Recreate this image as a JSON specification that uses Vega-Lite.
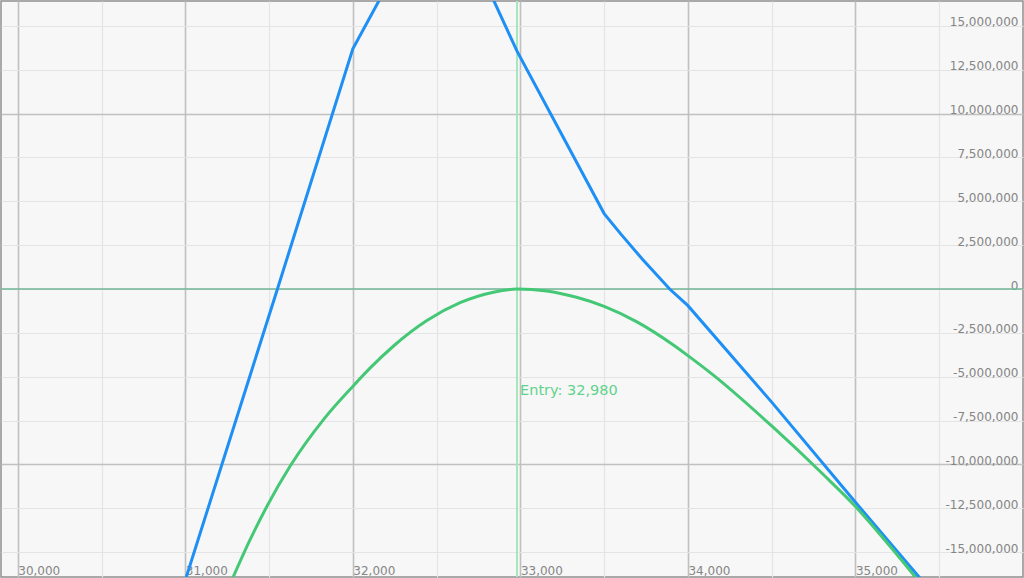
{
  "$schema": "https://vega.github.io/schema/vega-lite/v6.json",
  "width": 1024,
  "height": 578,
  "padding": 0,
  "autosize": {"type": "fit", "contains": "padding"},
  "background": "#ffffff",
  "config": {
    "view": {"fill": "#f7f7f7", "stroke": "#8f8f8f", "strokeWidth": 1.5},
    "axis": {
      "labelFont": "DejaVu Sans",
      "labelFontSize": 12,
      "labelColor": "#858585",
      "domain": false,
      "ticks": false,
      "tickSize": 0,
      "title": null,
      "labelOverlap": false,
      "labelFlush": false
    }
  },
  "datasets": {
    "pnl": [
      {"price": 31000, "value": -16600000, "series": "expiry"},
      {"price": 31550, "value": 0, "series": "expiry"},
      {"price": 32000, "value": 13690000, "series": "expiry"},
      {"price": 32527, "value": 22960000, "series": "expiry"},
      {"price": 32980, "value": 13560000, "series": "expiry"},
      {"price": 33500, "value": 4300000, "series": "expiry"},
      {"price": 33600, "value": 3130000, "series": "expiry"},
      {"price": 33730, "value": 1680000, "series": "expiry"},
      {"price": 33891, "value": 0, "series": "expiry"},
      {"price": 34000, "value": -950000, "series": "expiry"},
      {"price": 34500, "value": -6450000, "series": "expiry"},
      {"price": 35000, "value": -12160000, "series": "expiry"},
      {"price": 35400, "value": -16650000, "series": "expiry"},
      {"price": 31280, "value": -16550000, "series": "t0"},
      {"price": 31389, "value": -14250000, "series": "t0"},
      {"price": 31489, "value": -12360000, "series": "t0"},
      {"price": 31627, "value": -10080000, "series": "t0"},
      {"price": 31826, "value": -7430000, "series": "t0"},
      {"price": 32005, "value": -5500000, "series": "t0"},
      {"price": 32104, "value": -4500000, "series": "t0"},
      {"price": 32243, "value": -3250000, "series": "t0"},
      {"price": 32442, "value": -1800000, "series": "t0"},
      {"price": 32640, "value": -780000, "series": "t0"},
      {"price": 32839, "value": -180000, "series": "t0"},
      {"price": 32980, "value": 0, "series": "t0"},
      {"price": 33157, "value": -110000, "series": "t0"},
      {"price": 33335, "value": -470000, "series": "t0"},
      {"price": 33504, "value": -1000000, "series": "t0"},
      {"price": 33693, "value": -1860000, "series": "t0"},
      {"price": 33911, "value": -3180000, "series": "t0"},
      {"price": 34000, "value": -3800000, "series": "t0"},
      {"price": 34150, "value": -4900000, "series": "t0"},
      {"price": 34500, "value": -7810000, "series": "t0"},
      {"price": 34805, "value": -10550000, "series": "t0"},
      {"price": 35000, "value": -12400000, "series": "t0"},
      {"price": 35200, "value": -14600000, "series": "t0"},
      {"price": 35360, "value": -16450000, "series": "t0"}
    ],
    "entry": [{"price": 32980, "label": "Entry: 32,980"}],
    "zero": [{"value": 0}]
  },
  "layer": [
    {
      "data": {"name": "zero"},
      "mark": {"type": "rule", "color": "#6fb594", "strokeWidth": 1.5},
      "encoding": {
        "y": {
          "field": "value",
          "type": "quantitative",
          "scale": {"domain": [-16420000, 16420000], "nice": false, "zero": false},
          "axis": {
            "orient": "right",
            "values": [-15000000, -12500000, -10000000, -7500000, -5000000, -2500000, 0, 2500000, 5000000, 7500000, 10000000, 12500000, 15000000],
            "labelExpr": "replace(format(datum.value, ','), '\u2212', '-')",
            "labelAlign": "right",
            "labelBaseline": "alphabetic",
            "labelPadding": -5,
            "labelDy": -3,
            "grid": true,
            "gridColor": {"condition": {"test": "datum.value !== 0 && datum.value % 10000000 === 0", "value": "#c0c0c0"}, "value": "#e4e4e4"},
            "gridWidth": {"condition": {"test": "datum.value !== 0 && datum.value % 10000000 === 0", "value": 1.6}, "value": 1.2}
          }
        }
      }
    },
    {
      "data": {"name": "entry"},
      "mark": {"type": "rule", "color": "#a6e6bd", "strokeWidth": 2},
      "encoding": {
        "x": {
          "field": "price",
          "type": "quantitative",
          "scale": {"domain": [29900, 36000], "nice": false, "zero": false},
          "axis": {
            "orient": "bottom",
            "values": [30000, 30500, 31000, 31500, 32000, 32500, 33000, 33500, 34000, 34500, 35000, 35500],
            "labelExpr": "datum.value % 1000 === 0 ? format(datum.value, ',') : ''",
            "labelAlign": "left",
            "labelBaseline": "alphabetic",
            "labelPadding": -3,
            "labelDx": 4,
            "grid": true,
            "gridColor": {"condition": {"test": "datum.value % 1000 === 0", "value": "#c0c0c0"}, "value": "#e4e4e4"},
            "gridWidth": {"condition": {"test": "datum.value % 1000 === 0", "value": 1.6}, "value": 1.2}
          }
        }
      }
    },
    {
      "data": {"name": "pnl"},
      "transform": [{"filter": "datum.series === 'expiry'"}],
      "mark": {"type": "line", "color": "#1e8ff5", "strokeWidth": 3, "clip": true, "interpolate": "linear"},
      "encoding": {
        "x": {"field": "price", "type": "quantitative"},
        "y": {"field": "value", "type": "quantitative"}
      }
    },
    {
      "data": {"name": "pnl"},
      "transform": [{"filter": "datum.series === 't0'"}],
      "mark": {"type": "line", "color": "#45c876", "strokeWidth": 3, "clip": true, "interpolate": "monotone"},
      "encoding": {
        "x": {"field": "price", "type": "quantitative"},
        "y": {"field": "value", "type": "quantitative"}
      }
    },
    {
      "data": {"name": "entry"},
      "mark": {"type": "text", "color": "#5fd38c", "font": "DejaVu Sans", "fontSize": 14.5, "align": "left", "baseline": "alphabetic", "dx": 3},
      "encoding": {
        "x": {"field": "price", "type": "quantitative"},
        "y": {"datum": -6070000, "type": "quantitative"},
        "text": {"field": "label"}
      }
    }
  ]
}
